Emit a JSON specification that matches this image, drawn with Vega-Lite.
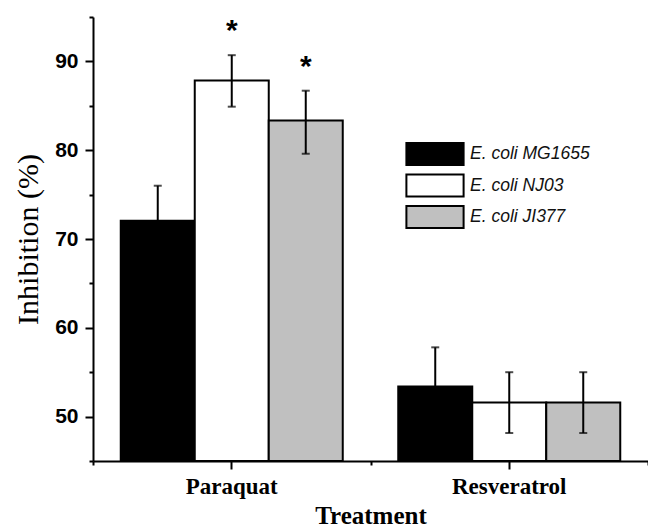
{
  "$schema": "https://vega.github.io/schema/vega-lite/v6.json",
  "width": 555,
  "height": 444,
  "autosize": {"type": "none"},
  "padding": {"left": 93, "top": 17, "right": 0, "bottom": 67},
  "background": "white",
  "config": {
    "view": {"stroke": null},
    "axis": {"domainColor": "black", "domainWidth": 2, "tickColor": "black", "tickWidth": 2, "grid": false, "labelColor": "black", "titleColor": "black"}
  },
  "data": {
    "values": [
      {"treatment": "Paraquat", "strain": "E. coli MG1655", "value": 72.05, "lo": 68.1, "hi": 76.0, "sig": ""},
      {"treatment": "Paraquat", "strain": "E. coli NJ03", "value": 87.85, "lo": 84.9, "hi": 90.7, "sig": "*"},
      {"treatment": "Paraquat", "strain": "E. coli JI377", "value": 83.35, "lo": 79.6, "hi": 86.7, "sig": "*"},
      {"treatment": "Resveratrol", "strain": "E. coli MG1655", "value": 53.4, "lo": 49.0, "hi": 57.8, "sig": ""},
      {"treatment": "Resveratrol", "strain": "E. coli NJ03", "value": 51.6, "lo": 48.15, "hi": 55.0, "sig": ""},
      {"treatment": "Resveratrol", "strain": "E. coli JI377", "value": 51.6, "lo": 48.15, "hi": 55.0, "sig": ""}
    ]
  },
  "layer": [
    {
      "encoding": {
        "x": {
          "field": "treatment", "type": "nominal",
          "scale": {"domain": ["Paraquat", "Resveratrol"], "paddingInner": 0.2, "paddingOuter": 0.1},
          "axis": {"orient": "bottom", "labelAngle": 0, "tickSize": 8, "labelFont": "Liberation Serif", "labelFontWeight": "bold", "labelFontSize": 23, "labelPadding": 6,
                   "title": "Treatment", "titleFont": "Liberation Serif", "titleFontWeight": "bold", "titleFontSize": 25, "titleX": 277.5, "titleY": 62, "titleBaseline": "alphabetic", "titleAlign": "center"}
        },
        "xOffset": {
          "field": "strain", "type": "nominal",
          "scale": {"domain": ["E. coli MG1655", "E. coli NJ03", "E. coli JI377"], "paddingInner": 0, "paddingOuter": 0}
        }
      },
      "layer": [
        {
          "mark": {"type": "bar", "stroke": "black", "strokeWidth": 2},
          "encoding": {
            "y": {
              "field": "value", "type": "quantitative",
              "scale": {"domain": [45, 95], "nice": false, "zero": false},
              "axis": {"orient": "left", "values": [50, 60, 70, 80, 90], "tickSize": 8, "labelFont": "Liberation Sans", "labelFontWeight": "bold", "labelFontSize": 21, "labelPadding": 7,
                       "title": "Inhibition (%)", "titleFont": "Liberation Serif", "titleFontWeight": "normal", "titleFontSize": 30, "titleAngle": 270, "titleX": -56, "titleY": 222, "titleAlign": "center", "titleBaseline": "alphabetic"}
            },
            "y2": {"datum": 45},
            "color": {
              "field": "strain", "type": "nominal",
              "scale": {"domain": ["E. coli MG1655", "E. coli NJ03", "E. coli JI377"], "range": ["#000000", "#ffffff", "#c0c0c0"]},
              "legend": {
                "orient": "none", "legendX": 330, "legendY": 125, "title": null, "padding": 0,
                "symbolType": "M-2.6,-1H2.6V1H-2.6Z", "symbolSize": 484, "symbolStrokeColor": "black", "symbolStrokeWidth": 2, "symbolOpacity": 1,
                "rowPadding": 1.5, "labelOffset": 23, "labelFont": "Liberation Sans", "labelFontStyle": "italic", "labelFontSize": 17.5, "labelColor": "#111", "labelLimit": 300
              }
            }
          }
        },
        {
          "mark": {"type": "rule", "color": "black", "strokeWidth": 2},
          "encoding": {"y": {"field": "lo", "type": "quantitative"}, "y2": {"field": "hi"}}
        },
        {
          "mark": {"type": "tick", "color": "black", "thickness": 2, "size": 8},
          "encoding": {"y": {"field": "hi", "type": "quantitative"}}
        },
        {
          "mark": {"type": "tick", "color": "black", "thickness": 2, "size": 8},
          "encoding": {"y": {"field": "lo", "type": "quantitative"}}
        },
        {
          "mark": {"type": "text", "font": "Liberation Sans", "fontWeight": "bold", "fontSize": 30, "baseline": "alphabetic", "dy": -15, "color": "black"},
          "encoding": {"y": {"field": "hi", "type": "quantitative"}, "text": {"field": "sig"}}
        }
      ]
    },
    {
      "mark": {"type": "point", "opacity": 0},
      "encoding": {
        "x": {
          "field": "treatment", "type": "nominal",
          "scale": {"domain": ["Paraquat", "Resveratrol"], "paddingInner": 0, "paddingOuter": 0},
          "axis": {"orient": "bottom", "tickBand": "extent", "labels": false, "domain": false, "tickSize": 4, "title": null}
        },
        "y": {
          "field": "value", "type": "quantitative",
          "axis": {"orient": "left", "values": [45, 55, 65, 75, 85, 95], "labels": false, "domain": false, "tickSize": 4, "title": null}
        }
      }
    }
  ],
  "resolve": {"scale": {"x": "independent"}, "axis": {"x": "independent", "y": "independent"}}
}
